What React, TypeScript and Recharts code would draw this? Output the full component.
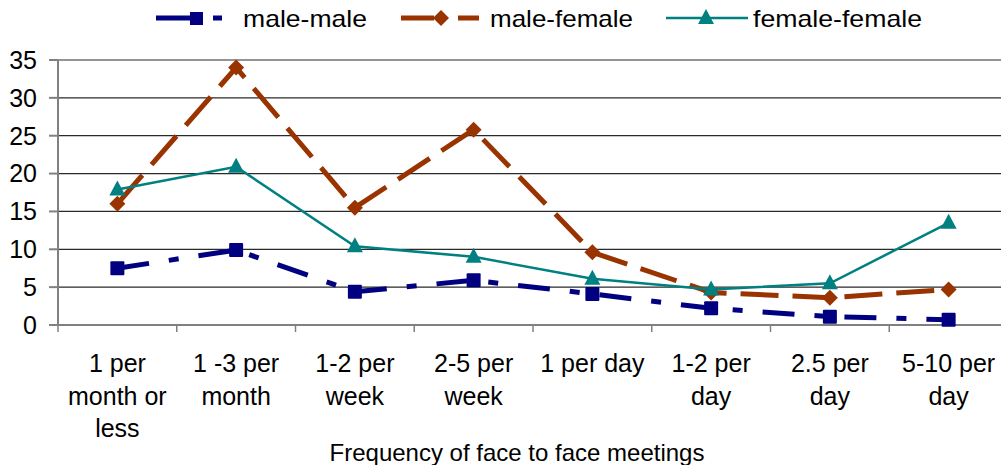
import { LineChart, Line, XAxis, YAxis, CartesianGrid } from 'recharts'

const categories = [
  '1 per\nmonth or\nless',
  '1 -3 per\nmonth',
  '1-2 per\nweek',
  '2-5 per\nweek',
  '1 per day',
  '1-2 per\nday',
  '2.5 per\nday',
  '5-10 per\nday',
]
const maleMale = [7.5, 9.9, 4.4, 5.9, 4.1, 2.2, 1.1, 0.7]
const maleFemale = [16, 34, 15.5, 25.8, 9.6, 4.3, 3.6, 4.7]
const femaleFemale = [17.9, 20.9, 10.4, 9, 6.1, 4.7, 5.5, 13.5]
const yTicks = [0, 5, 10, 15, 20, 25, 30, 35]

const NAVY = '#000080'
const RUST = '#993300'
const TEAL = '#008080'
const FONT = 'Arial, "Liberation Sans", sans-serif'

const CHART_W = 1012
const CHART_H = 465
const MARGIN = { top: 60, right: 4, left: 0, bottom: 0 }
const Y_W = 58
const PLOT_W = CHART_W - MARGIN.left - MARGIN.right - Y_W
const STEP = PLOT_W / categories.length

const data = categories.map((c, i) => ({
  name: c,
  mm: maleMale[i],
  mf: maleFemale[i],
  ff: femaleFemale[i],
}))

const Square = (props: any) => {
  const { cx, cy } = props
  if (cx == null || cy == null) return null
  return <rect x={cx - 7} y={cy - 7} width={14} height={14} fill={NAVY} rx={1} />
}

const Diamond = (props: any) => {
  const { cx, cy } = props
  if (cx == null || cy == null) return null
  const r = 8
  return <path d={`M${cx},${cy - r}L${cx + r},${cy}L${cx},${cy + r}L${cx - r},${cy}Z`} fill={RUST} />
}

const Triangle = (props: any) => {
  const { cx, cy } = props
  if (cx == null || cy == null) return null
  return <path d={`M${cx},${cy - 9}L${cx + 8},${cy + 6}L${cx - 8},${cy + 6}Z`} fill={TEAL} />
}

const XTick = (props: any) => {
  const { x, y, payload, index } = props
  const lines = String(payload.value).split('\n')
  return (
    <g>
      <line x1={x - STEP / 2} y1={y} x2={x - STEP / 2} y2={y + 7} stroke="#808080" strokeWidth={1.5} />
      {index === categories.length - 1 && (
        <line x1={x + STEP / 2} y1={y} x2={x + STEP / 2} y2={y + 7} stroke="#808080" strokeWidth={1.5} />
      )}
      <text x={x} y={y + 47} textAnchor="middle" fontSize={25} fontFamily={FONT} fill="#000">
        {lines.map((l, i) => (
          <tspan key={i} x={x} dy={i === 0 ? 0 : 32.5}>
            {l}
          </tspan>
        ))}
      </text>
    </g>
  )
}

function Legend() {
  const cy = 18
  const textStyle = { fontSize: 24, fontFamily: FONT, fill: '#000', lengthAdjust: 'spacingAndGlyphs' as const }
  return (
    <svg width={1001} height={40} style={{ position: 'absolute', top: 0, left: 0 }}>
      <line x1={156} y1={cy} x2={196} y2={cy} stroke={NAVY} strokeWidth={5} />
      <rect x={190} y={cy - 6} width={13} height={13} fill={NAVY} />
      <line x1={213} y1={cy} x2={222} y2={cy} stroke={NAVY} strokeWidth={5} />
      <text x={243} y={cy + 9} textLength={124} {...textStyle}>male-male</text>

      <line x1={401} y1={cy} x2={434} y2={cy} stroke={RUST} strokeWidth={5} />
      <path d={`M441,${cy - 8}L449,${cy}L441,${cy + 8}L433,${cy}Z`} fill={RUST} />
      <line x1={458} y1={cy} x2={479} y2={cy} stroke={RUST} strokeWidth={5} />
      <text x={490} y={cy + 9} textLength={143} {...textStyle}>male-female</text>

      <line x1={666} y1={cy} x2={748} y2={cy} stroke={TEAL} strokeWidth={2.5} />
      <path d={`M706,${cy - 9}L714,${cy + 6}L698,${cy + 6}Z`} fill={TEAL} />
      <text x={753} y={cy + 9} textLength={169} {...textStyle}>female-female</text>
    </svg>
  )
}

export default function App() {
  return (
    <div
      style={{
        position: 'absolute',
        top: 0,
        left: 0,
        width: 1001,
        height: 465,
        overflow: 'hidden',
        background: '#fff',
      }}
    >
      <LineChart width={CHART_W} height={CHART_H} data={data} margin={MARGIN}>
        <CartesianGrid horizontal vertical={false} stroke="#2a2a2a" strokeWidth={1.2} />
        <XAxis
          dataKey="name"
          interval={0}
          padding={{ left: STEP / 2, right: STEP / 2 }}
          tickLine={false}
          tickSize={0}
          tickMargin={0}
          height={CHART_H - 325 - MARGIN.bottom}
          stroke="#808080"
          strokeWidth={2}
          tick={<XTick />}
          label={{
            value: 'Frequency of face to face meetings',
            position: 'insideBottom',
            offset: 4,
            dx: -16,
            style: { fontSize: 24, fontFamily: FONT, fill: '#000' },
          }}
        />
        <YAxis
          width={Y_W}
          domain={[0, 35]}
          ticks={yTicks}
          interval={0}
          tickSize={9}
          tickMargin={12}
          stroke="#808080"
          strokeWidth={2}
          tick={{ fontSize: 25, fontFamily: FONT, fill: '#000' }}
        />
        <Line
          dataKey="mf"
          stroke={RUST}
          strokeWidth={5}
          strokeDasharray="38 14"
          dot={<Diamond />}
          activeDot={false}
          isAnimationActive={false}
        />
        <Line
          dataKey="ff"
          stroke={TEAL}
          strokeWidth={2.5}
          dot={<Triangle />}
          activeDot={false}
          isAnimationActive={false}
        />
        <Line
          dataKey="mm"
          stroke={NAVY}
          strokeWidth={5}
          strokeDasharray="32 20 10 20"
          dot={<Square />}
          activeDot={false}
          isAnimationActive={false}
        />
      </LineChart>
      <Legend />
    </div>
  )
}
